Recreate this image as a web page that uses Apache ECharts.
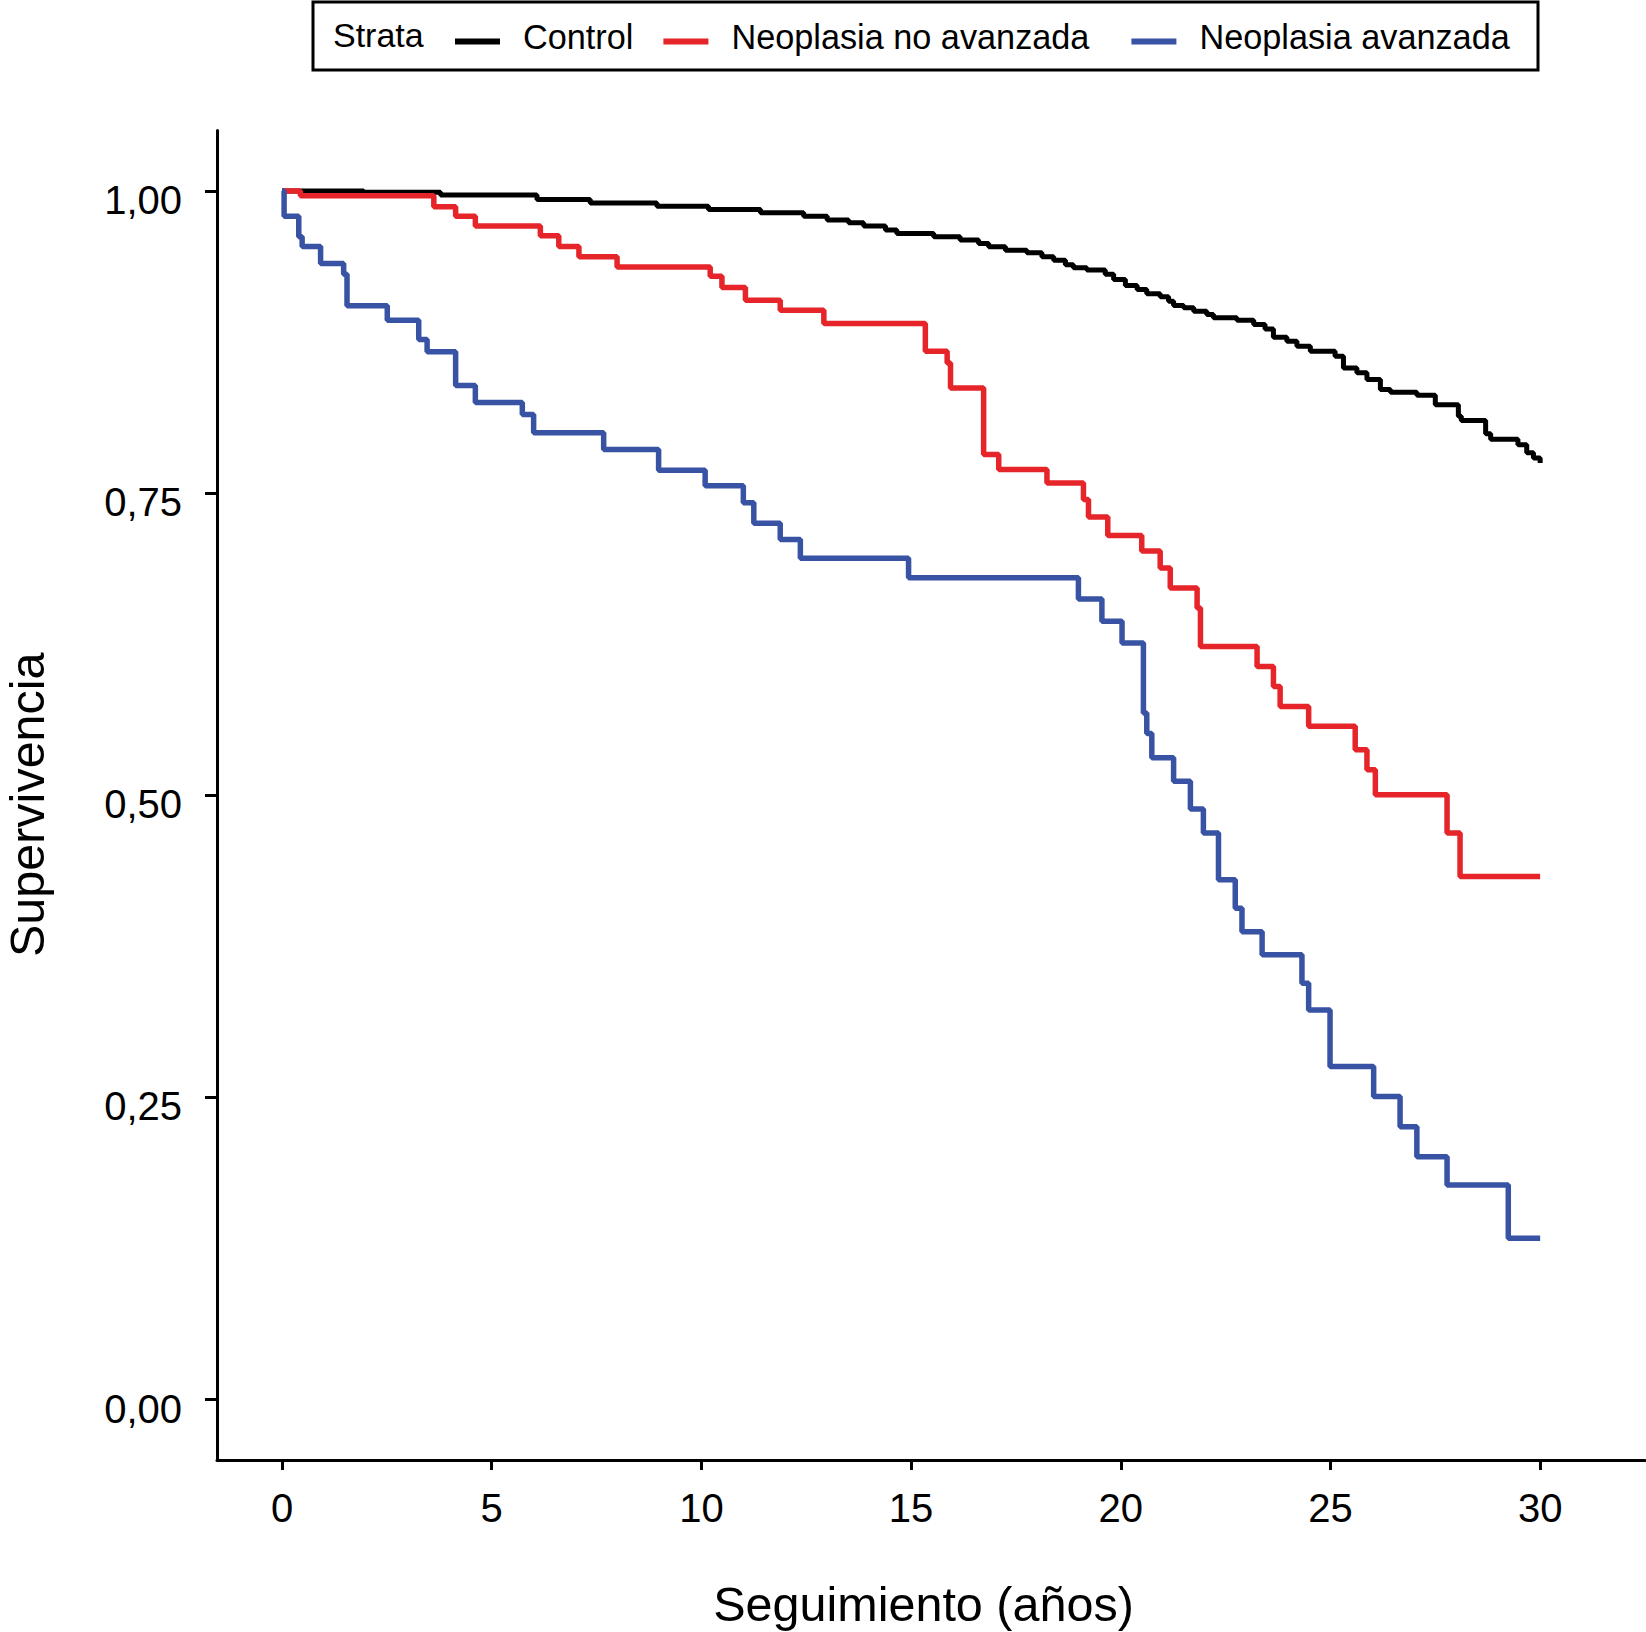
<!DOCTYPE html>
<html>
<head>
<meta charset="utf-8">
<script src="https://cdn.jsdelivr.net/npm/echarts@6/dist/echarts.min.js"></script>
<style>
  html, body { margin: 0; padding: 0; background: #fff; }
  #chart { width: 1646px; height: 1632px; }
</style>
</head>
<body>
<div id="chart"></div>
<script>
// ---- Data ----
const seriesNames = ['Control', 'Neoplasia no avanzada', 'Neoplasia avanzada'];

const timesControl = [0, 1.95, 3.78, 6.08, 7.35, 8.94, 10.17, 11.41, 12.44, 13.0, 13.51, 13.87, 14.39, 14.66, 15.54, 16.17, 16.61, 16.85, 17.25, 17.76, 18.12, 18.40, 18.68, 18.87, 19.19, 19.63, 19.83, 20.11, 20.39, 20.62, 20.94, 21.14, 21.26, 21.50, 21.74, 22.05, 22.21, 22.77, 23.17, 23.44, 23.64, 23.96, 24.20, 24.52, 25.11, 25.31, 25.63, 25.87, 26.19, 26.43, 27.06, 27.50, 28.05, 28.12, 28.70, 28.82, 29.47, 29.68, 29.84, 30.0];
const survControl = [1.0, 0.999, 0.9967, 0.993, 0.990, 0.9874, 0.9847, 0.982, 0.979, 0.976, 0.9737, 0.971, 0.9676, 0.9648, 0.962, 0.9593, 0.9565, 0.9538, 0.951, 0.9488, 0.9455, 0.9427, 0.939, 0.9364, 0.9345, 0.931, 0.9267, 0.9218, 0.9185, 0.915, 0.9124, 0.9088, 0.9052, 0.9033, 0.9005, 0.8977, 0.895, 0.893, 0.8895, 0.8857, 0.879, 0.8757, 0.8715, 0.8674, 0.8632, 0.8536, 0.8495, 0.844, 0.8357, 0.8334, 0.831, 0.823, 0.8136, 0.810, 0.799, 0.7945, 0.790, 0.7833, 0.779, 0.775];

const timesNoAvanzada = [0, 0.44, 3.62, 4.14, 4.61, 6.16, 6.60, 7.08, 7.99, 10.21, 10.49, 11.05, 11.88, 12.92, 15.34, 15.86, 15.94, 16.73, 17.09, 18.24, 19.11, 19.23, 19.69, 20.50, 20.94, 21.18, 21.82, 21.90, 23.25, 23.64, 23.80, 24.48, 25.59, 25.87, 26.07, 27.78, 28.09, 30.0];
const survNoAvanzada = [1.0, 0.996, 0.987, 0.979, 0.971, 0.963, 0.954, 0.9455, 0.937, 0.9295, 0.920, 0.9096, 0.9013, 0.8903, 0.8674, 0.8577, 0.837, 0.7819, 0.7695, 0.7584, 0.7446, 0.7303, 0.715, 0.702, 0.688, 0.6715, 0.655, 0.623, 0.6066, 0.590, 0.5735, 0.557, 0.5377, 0.521, 0.5004, 0.4687, 0.4328, 0.4328];

const timesAvanzada = [0, 0.05, 0.40, 0.48, 0.92, 1.47, 1.55, 2.51, 3.26, 3.46, 4.14, 4.61, 5.73, 6.00, 7.67, 8.98, 10.09, 11.0, 11.25, 11.88, 12.36, 14.94, 18.99, 19.55, 20.03, 20.54, 20.62, 20.74, 21.26, 21.66, 21.97, 22.33, 22.73, 22.89, 23.37, 24.32, 24.48, 24.99, 26.03, 26.66, 27.06, 27.78, 29.24, 30.0];
const survAvanzada = [1.0, 0.979, 0.962, 0.954, 0.940, 0.931, 0.905, 0.893, 0.877, 0.867, 0.839, 0.825, 0.815, 0.800, 0.786, 0.769, 0.756, 0.742, 0.725, 0.7115, 0.696, 0.680, 0.6624, 0.644, 0.626, 0.568, 0.551, 0.531, 0.5115, 0.4886, 0.4687, 0.430, 0.4066, 0.387, 0.368, 0.3445, 0.3224, 0.2755, 0.2507, 0.2258, 0.201, 0.1776, 0.1334, 0.1334];

const xTickValues = [0, 5, 10, 15, 20, 25, 30];
const xTickLabels = ['0', '5', '10', '15', '20', '25', '30'];
const yTickValues = [0, 0.25, 0.5, 0.75, 1.0];
const yTickLabels = ['0,00', '0,25', '0,50', '0,75', '1,00'];

const legendTitle = 'Strata';
const xAxisTitle = 'Seguimiento (años)';
const yAxisTitle = 'Supervivencia';

// ---- Chart ----
const FONT = 'Liberation Sans, Arial, Helvetica, sans-serif';
const colors = ['#000000', '#E5252A', '#3953A4'];

function pairs(ts, ss) { return ts.map((t, i) => [t, ss[i]]); }

const chart = echarts.init(document.getElementById('chart'), null, { renderer: 'svg' });

const option = {
  backgroundColor: '#ffffff',
  animation: false,
  color: colors,
  title: {
    text: legendTitle,
    left: 333,
    top: 18,
    padding: 0,
    textStyle: { fontFamily: FONT, fontSize: 34, fontWeight: 'normal', color: '#000', lineHeight: 34 }
  },
  graphic: [{
    type: 'rect',
    shape: { x: 313, y: 2, width: 1225, height: 68 },
    style: { fill: 'none', stroke: '#000', lineWidth: 3 },
    silent: true,
    z: 10
  }],
  legend: {
    left: 455,
    top: 19.5,
    padding: 0,
    icon: 'rect',
    itemWidth: 45,
    itemHeight: 6,
    itemGap: 30,
    formatter: name => name + '\n',
    textStyle: { fontFamily: FONT, fontSize: 34.25, color: '#000', lineHeight: 10, padding: [0, 0, 0, 18] },
    data: [
      { name: seriesNames[0] },
      { name: seriesNames[1], textStyle: { padding: [0, 12, 0, 18] } },
      { name: seriesNames[2] }
    ]
  },
  grid: { left: 217, right: 1, top: 130.5, bottom: 172, containLabel: false, outerBoundsMode: 'none' },
  xAxis: {
    type: 'value',
    min: -1.55,
    max: 32.5,
    name: xAxisTitle,
    nameLocation: 'middle',
    nameGap: 119,
    nameTextStyle: { fontFamily: FONT, fontSize: 48.5, color: '#000', padding: [0, 15, 0, 0] },
    axisLine: { show: true, onZero: false, lineStyle: { color: '#000', width: 3 } },
    axisTick: { show: true, length: 10, lineStyle: { color: '#000', width: 3 }, customValues: xTickValues },
    axisLabel: {
      fontFamily: FONT, fontSize: 40, color: '#000', margin: 28,
      customValues: xTickValues,
      formatter: v => xTickLabels[xTickValues.indexOf(v)]
    },
    splitLine: { show: false }
  },
  yAxis: {
    type: 'value',
    min: -0.05,
    max: 1.05,
    name: yAxisTitle,
    nameLocation: 'middle',
    nameRotate: 90,
    nameGap: 166,
    nameTextStyle: { fontFamily: FONT, fontSize: 48.5, color: '#000', padding: [0, 19, 0, 0] },
    axisLine: { show: true, onZero: false, lineStyle: { color: '#000', width: 3 } },
    axisTick: { show: true, length: 12, lineStyle: { color: '#000', width: 3 }, customValues: yTickValues },
    axisLabel: {
      fontFamily: FONT, fontSize: 40, color: '#000', margin: 35,
      verticalAlign: 'top',
      lineHeight: 18,
      customValues: yTickValues,
      formatter: v => yTickLabels[yTickValues.indexOf(v)]
    },
    splitLine: { show: false }
  },
  series: [
    {
      name: seriesNames[0], type: 'line', step: 'end', symbol: 'none',
      data: pairs(timesControl, survControl),
      lineStyle: { color: colors[0], width: 5 }, itemStyle: { color: colors[0] }
    },
    {
      name: seriesNames[1], type: 'line', step: 'end', symbol: 'none',
      data: pairs(timesNoAvanzada, survNoAvanzada),
      lineStyle: { color: colors[1], width: 5.5 }, itemStyle: { color: colors[1] }
    },
    {
      name: seriesNames[2], type: 'line', step: 'end', symbol: 'none',
      data: pairs(timesAvanzada, survAvanzada),
      lineStyle: { color: colors[2], width: 5.5 }, itemStyle: { color: colors[2] }
    }
  ]
};

chart.setOption(option);
</script>
</body>
</html>
